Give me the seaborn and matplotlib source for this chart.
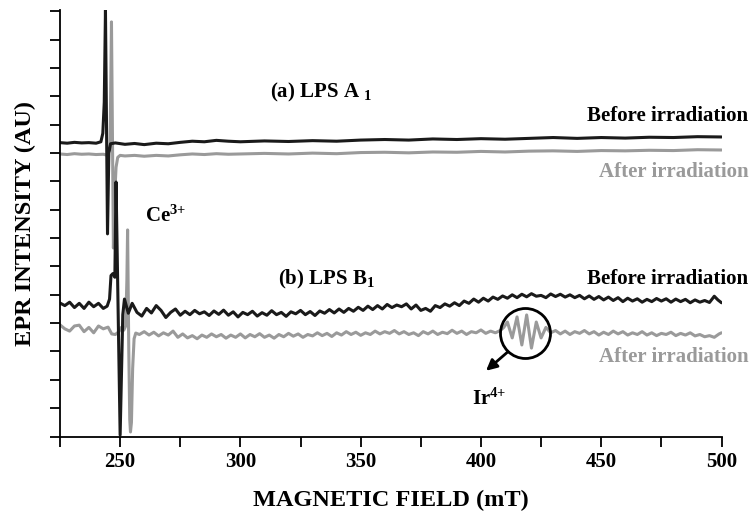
import matplotlib
matplotlib.use("Agg")
import matplotlib.pyplot as plt
import numpy as np
import pandas as pd
import seaborn as sns

# ---------------- data ----------------
# (a) LPS A1, before irradiation (black)
a_before_field = [225, 228, 231, 234, 237, 240, 242, 242.8, 243.4, 243.9, 244.75, 245.3, 246,
                  248, 252, 256, 260, 265, 270, 275, 280, 285, 290, 295, 300, 310, 320, 330,
                  340, 350, 360, 370, 380, 390, 400, 410, 420, 430, 440, 450, 460, 470, 480,
                  490, 500]
a_before_int = [10.37, 10.35, 10.38, 10.36, 10.37, 10.35, 10.40, 10.7, 11.8, 15.05, 7.15, 10.0,
                10.33, 10.36, 10.31, 10.34, 10.30, 10.35, 10.33, 10.38, 10.42, 10.40, 10.45,
                10.42, 10.40, 10.43, 10.41, 10.44, 10.42, 10.46, 10.48, 10.46, 10.50, 10.48,
                10.51, 10.49, 10.52, 10.55, 10.52, 10.55, 10.53, 10.56, 10.55, 10.58, 10.57]

# (a) LPS A1, after irradiation (grey)
a_after_field = [225, 228, 231, 234, 237, 240, 243, 244.5, 245.8, 246.4, 247.2, 247.8, 248.3,
                 249, 250, 252, 256, 260, 265, 270, 275, 280, 285, 290, 295, 300, 310, 320,
                 330, 340, 350, 360, 370, 380, 390, 400, 410, 420, 430, 440, 450, 460, 470,
                 480, 490, 500]
a_after_int = [9.97, 9.95, 9.98, 9.96, 9.97, 9.95, 9.96, 9.93, 10.15, 14.63, 6.65, 8.6, 9.5,
               9.85, 9.92, 9.90, 9.92, 9.89, 9.92, 9.90, 9.94, 9.97, 9.95, 9.98, 9.96, 9.97,
               9.99, 9.97, 10.0, 9.98, 10.02, 10.03, 10.01, 10.04, 10.03, 10.06, 10.04, 10.07,
               10.08, 10.06, 10.09, 10.08, 10.10, 10.09, 10.12, 10.11]

# (b) LPS B1, before irradiation (black)
b_before_field = [225, 227, 229, 231, 233, 235, 237, 239, 241, 243, 244.6,
                  245.6, 246.2, 247.0, 247.8, 248.3, 250.0, 251.1, 251.8, 252.6, 253.4,
                  255, 257, 259, 261, 263, 265, 267, 269, 271, 273, 275, 277, 279, 281, 283,
                  285, 287, 289, 291, 293, 295, 297, 299, 301, 303, 305, 307, 309, 311, 313,
                  315, 317, 319, 321, 323, 325, 327, 329, 331, 333, 335, 337, 339, 341, 343,
                  345, 347, 349, 351, 353, 355, 357, 359, 361, 363, 365, 367, 369, 371, 373,
                  375, 377, 379, 381, 383, 385, 387, 389, 391, 393, 395, 397, 399, 401, 403,
                  405, 407, 409, 411, 413, 415, 417, 419, 421, 423, 425, 427, 429, 431, 433,
                  435, 437, 439, 441, 443, 445, 447, 449, 451, 453, 455, 457, 459, 461, 463,
                  465, 467, 469, 471, 473, 475, 477, 479, 481, 483, 485, 487, 489, 491, 493,
                  495, 497, 498.5, 500]
b_before_int = [4.71, 4.62, 4.74, 4.55, 4.70, 4.52, 4.74, 4.58, 4.70, 4.52, 4.60,
                4.85, 5.68, 5.75, 5.62, 8.98, 0.05, 4.30, 4.85, 4.60, 4.35,
                4.70, 4.38, 4.25, 4.52, 4.36, 4.62, 4.45, 4.20, 4.38, 4.50, 4.28, 4.42, 4.30,
                4.45, 4.33, 4.40, 4.27, 4.43, 4.31, 4.46, 4.28, 4.40, 4.22, 4.38, 4.30, 4.42,
                4.25, 4.37, 4.28, 4.44, 4.30, 4.38, 4.24, 4.40, 4.33, 4.45, 4.30, 4.41, 4.27,
                4.43, 4.35, 4.48, 4.36, 4.50, 4.38, 4.52, 4.42, 4.56, 4.45, 4.60, 4.48, 4.62,
                4.50, 4.66, 4.55, 4.64, 4.58, 4.68, 4.50, 4.64, 4.45, 4.52, 4.42, 4.62, 4.55,
                4.68, 4.60, 4.72, 4.62, 4.78, 4.70, 4.85, 4.74, 4.88, 4.78, 4.92, 4.84, 4.96,
                4.88, 5.00, 4.90, 5.02, 4.93, 5.04, 4.95, 4.98, 4.90, 5.03, 4.94, 5.02, 4.92,
                5.00, 4.90, 4.98, 4.86, 4.96, 4.84, 4.94, 4.82, 4.92, 4.80, 4.90, 4.76, 4.88,
                4.78, 4.86, 4.74, 4.84, 4.76, 4.87, 4.78, 4.86, 4.74, 4.85, 4.76, 4.84, 4.72,
                4.82, 4.74, 4.80, 4.73, 4.95, 4.82, 4.72]

# (b) LPS B1, after irradiation (grey)
b_after_field = [225, 227, 229, 231, 233, 235, 237, 239, 241, 243, 245, 246.5, 248, 249.5,
                 250.5, 251.5, 252.3, 252.8, 253.1, 253.6, 254.0, 254.3, 254.7, 255.2, 255.8,
                 256.5, 258,
                 260, 262, 264, 266, 268, 270, 272, 274, 276, 278, 280, 282, 284, 286, 288,
                 290, 292, 294, 296, 298, 300, 302, 304, 306, 308, 310, 312, 314, 316, 318,
                 320, 322, 324, 326, 328, 330, 332, 334, 336, 338, 340, 342, 344, 346, 348,
                 350, 352, 354, 356, 358, 360, 362, 364, 366, 368, 370, 372, 374, 376, 378,
                 380, 382, 384, 386, 388, 390, 392, 394, 396, 398, 400, 402, 404, 406, 408,
                 409.5, 411, 413, 415, 417, 419, 421, 423, 425, 427, 429, 431, 433, 435, 437,
                 439, 441, 443, 445, 447, 449, 451, 453, 455, 457, 459, 461, 463, 465, 467,
                 469, 471, 473, 475, 477, 479, 481, 483, 485, 487, 489, 491, 493, 495, 497,
                 499, 500]
b_after_int = [3.94, 3.80, 3.72, 3.90, 3.93, 3.70, 3.85, 3.66, 3.90, 3.80, 3.86, 3.62, 3.60,
               3.70, 3.85, 3.75, 3.90, 5.5, 7.29, 3.0, 0.6, 0.16, 0.5, 2.4, 3.45, 3.65, 3.60,
               3.70, 3.58, 3.68, 3.55, 3.66, 3.58, 3.72, 3.50, 3.62, 3.48, 3.56, 3.45, 3.58,
               3.50, 3.62, 3.52, 3.60, 3.47, 3.58, 3.50, 3.62, 3.48, 3.60, 3.52, 3.63, 3.50,
               3.58, 3.47, 3.60, 3.52, 3.64, 3.54, 3.62, 3.50, 3.60, 3.55, 3.66, 3.56, 3.64,
               3.53, 3.66, 3.58, 3.70, 3.60, 3.68, 3.57, 3.66, 3.60, 3.72, 3.62, 3.70, 3.64,
               3.74, 3.62, 3.70, 3.60, 3.66, 3.56, 3.70, 3.62, 3.72, 3.60, 3.68, 3.63, 3.75,
               3.64, 3.72, 3.60, 3.70, 3.66, 3.76, 3.64, 3.72, 3.66, 3.74,
               3.85, 4.04, 3.48, 4.22, 3.23, 4.29, 3.12, 4.04, 3.48, 3.85, 3.66, 3.74, 3.62,
               3.72, 3.60, 3.70, 3.64, 3.74, 3.62, 3.70, 3.58, 3.68, 3.60, 3.72, 3.62, 3.70,
               3.58, 3.66, 3.60, 3.70, 3.58, 3.66, 3.56, 3.64, 3.60, 3.68, 3.56, 3.64, 3.58,
               3.66, 3.55, 3.60, 3.52, 3.56, 3.50, 3.62, 3.66]

trace_names = ["A after", "A before", "B after", "B before"]
x_major = [250, 300, 350, 400, 450, 500]
x_minor = [225, 275, 325, 375, 425, 475]
y_ticks = list(range(16))

# ---------------- style ----------------
BLACK = "#1a1a1a"
GREY = "#9a9a9a"
sns.set_theme(style="ticks")
plt.rcParams.update({
    "font.family": ["Liberation Serif", "DejaVu Serif"],
    "font.weight": "bold",
    "axes.labelweight": "bold",
    "mathtext.fontset": "custom",
    "mathtext.rm": "Liberation Serif:bold",
    "mathtext.it": "Liberation Serif:bold",
    "mathtext.bf": "Liberation Serif:bold",
    "axes.linewidth": 1.3,
    "axes.edgecolor": "black",
})

frames = [
    pd.DataFrame({"field": a_after_field, "intensity": a_after_int, "trace": "A after"}),
    pd.DataFrame({"field": a_before_field, "intensity": a_before_int, "trace": "A before"}),
    pd.DataFrame({"field": b_after_field, "intensity": b_after_int, "trace": "B after"}),
    pd.DataFrame({"field": b_before_field, "intensity": b_before_int, "trace": "B before"}),
]
df = pd.concat(frames, ignore_index=True)

fig = plt.figure(figsize=(7.5, 5.18), dpi=100)
fig.patch.set_facecolor("white")
ax = fig.add_axes([0.08, 0.1573, 0.882, 0.8234])

sns.lineplot(data=df, x="field", y="intensity", hue="trace", hue_order=trace_names,
             palette={"A after": GREY, "A before": BLACK, "B after": GREY, "B before": BLACK},
             estimator=None, sort=False, legend=False, linewidth=2.2, ax=ax)

ax.set_xlim(225, 500)
ax.set_ylim(0, 15.05)
ax.set_xticks(x_major)
ax.set_xticklabels([str(v) for v in x_major])
ax.set_xticks(x_minor, minor=True)
ax.set_yticks(y_ticks)
ax.set_yticklabels([])
sns.despine(ax=ax)
ax.tick_params(axis="both", which="both", direction="out", length=7, width=1.3,
               colors="black")
ax.tick_params(axis="x", labelsize=15, pad=4)

ax.set_xlabel("MAGNETIC FIELD (mT)", fontsize=17.5, color="black")
ax.xaxis.set_label_coords(0.5, -0.125)
ax.set_ylabel("EPR INTENSITY (AU)", fontsize=17.5, color="black")
ax.yaxis.set_label_coords(-0.036, 0.5)

# ---------------- annotations ----------------
ax.text(312.3, 11.97, r"(a) LPS A $_{1}$", fontsize=15, color="black")
ax.text(315.6, 5.38, r"(b) LPS B$_{1}$", fontsize=15, color="black")
ax.text(260.3, 7.57, r"Ce$^{\text{3+}}$", fontsize=15, color="black")
ax.text(396.3, 1.11, r"Ir$^{\text{4+}}$", fontsize=15, color="black")

ax.text(511.1, 11.14, "Before irradiation", fontsize=15, color="black", ha="right",
        clip_on=False)
ax.text(511.1, 9.16, "After irradiation", fontsize=15, color=GREY, ha="right",
        clip_on=False)
ax.text(511.1, 5.38, "Before irradiation", fontsize=15, color="black", ha="right",
        clip_on=False)
ax.text(511.1, 2.63, "After irradiation", fontsize=15, color=GREY, ha="right",
        clip_on=False)

circle_xy = (418.3, 3.64)
ax.plot([circle_xy[0]], [circle_xy[1]], marker="o", ms=36, mfc="none", mec="black",
        mew=2.0)
ax.annotate("", xy=(402.1, 2.32), xytext=(411.2, 2.99),
            arrowprops=dict(arrowstyle="-|>", color="black", lw=2.0, mutation_scale=16,
                            shrinkA=0, shrinkB=0))

fig.savefig("out.png", dpi=100, facecolor="white")
